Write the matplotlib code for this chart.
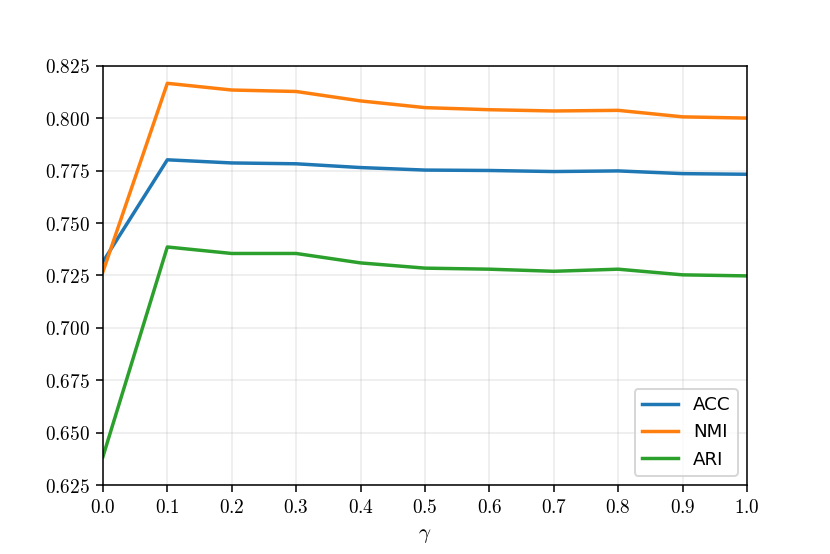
import matplotlib
matplotlib.use("Agg")
import matplotlib.pyplot as plt
from matplotlib.ticker import FuncFormatter, MultipleLocator

gamma = [0.0, 0.1, 0.2, 0.3, 0.4, 0.5, 0.6, 0.7, 0.8, 0.9, 1.0]
acc = [0.7315, 0.7802, 0.7787, 0.7783, 0.7765, 0.7753, 0.7751, 0.7746, 0.7749, 0.7736, 0.7733]
nmi = [0.7267, 0.8167, 0.8135, 0.8128, 0.8083, 0.8051, 0.8041, 0.8035, 0.8038, 0.8007, 0.8001]
ari = [0.6385, 0.7386, 0.7355, 0.7355, 0.7310, 0.7285, 0.7280, 0.7270, 0.7280, 0.7253, 0.7248]
labels = ["ACC", "NMI", "ARI"]

plt.rcParams['mathtext.fontset'] = 'cm'
dpi = 138.33
fig = plt.figure(figsize=(830 / dpi, 554 / dpi), dpi=dpi)
ax = fig.add_axes([0.124, 0.1245, 0.776, 0.7565])

for ys, lab, c in zip([acc, nmi, ari], labels, ['#1f77b4', '#ff7f0e', '#2ca02c']):
    ax.plot(gamma, ys, label=lab, color=c, lw=1.8)

ax.set_xlim(0, 1)
ax.set_ylim(0.625, 0.825)
ax.xaxis.set_major_locator(MultipleLocator(0.1))
ax.yaxis.set_major_locator(MultipleLocator(0.025))
ax.xaxis.set_major_formatter(FuncFormatter(lambda v, p: f"${v:.1f}$"))
ax.yaxis.set_major_formatter(FuncFormatter(lambda v, p: f"${v:.3f}$"))
ax.tick_params(labelsize=10)
ax.grid(True, color='#b0b0b0', alpha=0.25, lw=0.8)
ax.set_xlabel(r"$\gamma$", fontsize=11)
ax.legend(loc='lower right', prop={'family': 'DejaVu Sans', 'size': 9.5})

fig.savefig("out.png", dpi=dpi)
